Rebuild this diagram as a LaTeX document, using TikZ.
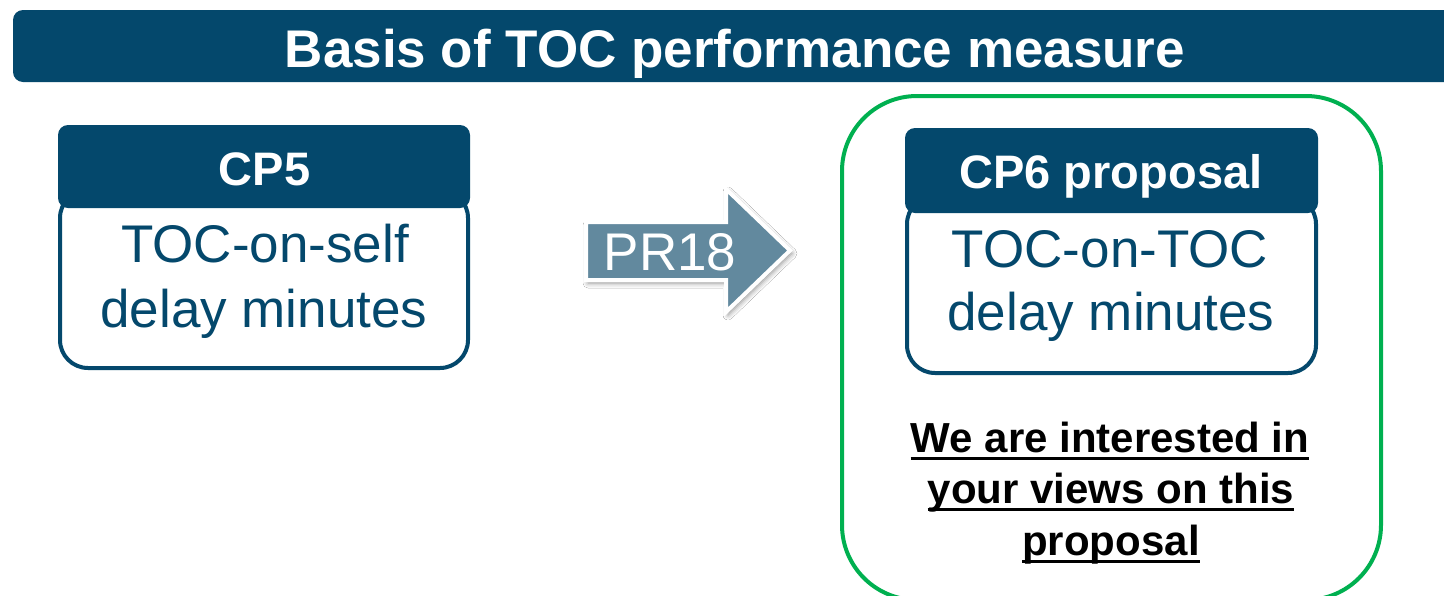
\documentclass[tikz,border=0pt]{standalone}
\usepackage{fontspec}
\setmainfont{Liberation Sans}
\usetikzlibrary{shadows.blur}
\definecolor{navy}{RGB}{4,72,108}
\definecolor{steel}{RGB}{98,137,158}
\definecolor{leaf}{RGB}{0,176,80}
\begin{document}
\begin{tikzpicture}[x=1pt,y=-1pt,
  headbar/.style={fill=navy, draw=none, rounded corners=10pt, inner sep=0pt},
  bodybox/.style={draw=navy, line width=4pt, fill=white, rounded corners=28pt, inner sep=0pt},
  headtext/.style={text=white, font=\fontsize{47}{56}\selectfont\bfseries, inner sep=0pt, anchor=base},
  bodytext/.style={text=navy, font=\fontsize{53}{63}\selectfont, inner sep=0pt, anchor=base},
  notetext/.style={text=black, font=\fontsize{42}{52}\selectfont\bfseries, inner sep=0pt, anchor=base},
  uline/.style={line width=3pt, black}
]
\useasboundingbox (0,0) rectangle (1444,595);
\fill[white] (0,0) rectangle (1444,595);

% title banner
\node[headbar, minimum width=1444pt, minimum height=72pt] (banner) at (735,46) {};
\node[headtext, font=\fontsize{53}{63}\selectfont\bfseries] (title) at (735,67) {Basis of TOC performance measure};

% CP5 card
\node[bodybox, minimum width=408pt, minimum height=178pt] (cp5body) at (264,279) {};
\node[headbar, minimum width=412pt, minimum height=83pt] (cp5head) at (264,166.5) {};
\node[headtext] (cp5title) at (264.5,185) {CP5};
\node[bodytext] (cp5a) at (265,262) {TOC-on-self};
\node[bodytext] (cp5b) at (264,327) {delay minutes};

% PR18 block arrow
\draw[draw=white, line width=4pt, fill=steel, line join=miter,
      blur shadow={shadow xshift=2pt, shadow yshift=-3pt, shadow blur radius=5pt, shadow opacity=45}]
  (586,222) -- (726,222) -- (726,189) -- (790,250.5) -- (726,312) -- (726,280) -- (586,280) -- cycle;
\node[text=white, font=\fontsize{53}{63}\selectfont, inner sep=0pt, anchor=base] (pr) at (670,270) {PR18};

% green frame around the proposal (its bottom edge runs off the page)
\node[draw=leaf, line width=4pt, rounded corners=75pt, minimum width=539pt, minimum height=504pt, inner sep=0pt] (frame) at (1111.5,348) {};

% CP6 card
\node[bodybox, minimum width=409pt, minimum height=177pt] (cp6body) at (1111.5,284.5) {};
\node[headbar, minimum width=413pt, minimum height=85pt] (cp6head) at (1111.5,170.5) {};
\node[headtext] (cp6title) at (1111,188) {CP6 proposal};
\node[bodytext] (cp6a) at (1110,267) {TOC-on-TOC};
\node[bodytext] (cp6b) at (1111,330) {delay minutes};

% invitation note
\node[notetext] (n1) at (1110,452) {We are interested in};
\node[notetext] (n2) at (1111,503) {your views on this};
\node[notetext] (n3) at (1111,555) {proposal};
\foreach \n in {n1,n2,n3}
  \draw[uline] ([yshift=-6pt]\n.base west) -- ([yshift=-6pt]\n.base east);
\end{tikzpicture}
\end{document}
